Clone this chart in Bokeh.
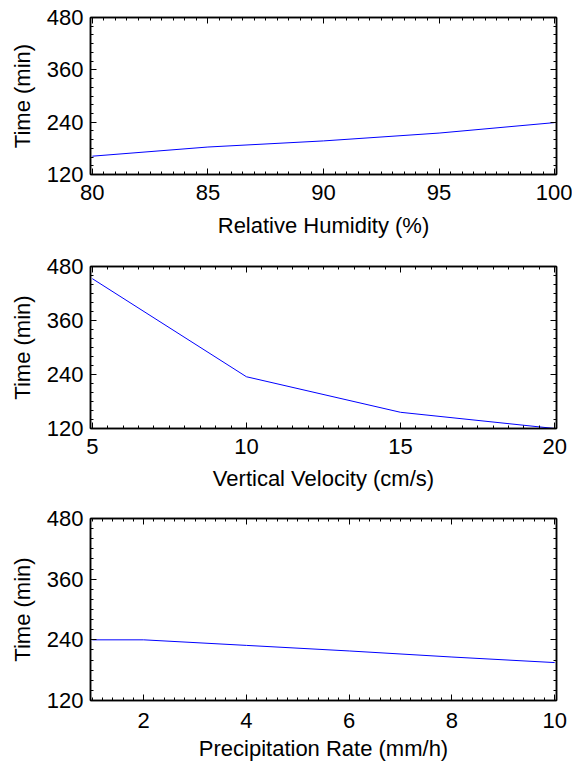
from bokeh.plotting import figure
from bokeh.layouts import column
from bokeh.models import Range1d, LinearAxis, SingleIntervalTicker
from bokeh.embed import file_html
from bokeh.resources import INLINE

# ---- data ----
rh_pct = [80, 85, 90, 95, 100]
rh_time = [162, 183, 197, 215, 239]

vv_cms = [5, 10, 15, 20]
vv_time = [453, 235, 156, 120]

pr_mmh = [1, 2, 4, 6, 8, 10]
pr_time = [240, 240, 229, 218, 206, 195]

y_min, y_max = 120, 480
y_tick_step = 120

x_labels = ["Relative Humidity (%)", "Vertical Velocity (cm/s)", "Precipitation Rate (mm/h)"]
y_label = "Time (min)"

FONT = "Liberation Sans"
FS = "22px"


def style_axis(ax, show_labels):
    ax.axis_line_color = "black"
    ax.axis_line_width = 1.5
    ax.major_tick_in = 6
    ax.major_tick_out = 0
    ax.minor_tick_in = 3
    ax.minor_tick_out = 0
    ax.major_tick_line_color = "black"
    ax.minor_tick_line_color = "black"
    ax.major_label_text_font = FONT
    ax.axis_label_text_font = FONT
    ax.axis_label_text_font_style = "normal"
    ax.major_label_text_color = "black"
    ax.axis_label_text_color = "black"
    if show_labels:
        ax.major_label_text_font_size = FS
        ax.axis_label_text_font_size = FS
    else:
        ax.major_label_text_font_size = "1px"
        ax.major_label_text_alpha = 0
        ax.major_label_standoff = 0


def make_panel(xs, ys, xlabel, x_step, height, top, bottom, tick_standoff, x_label_standoff):
    span = xs[-1] - xs[0]
    pad = span * 1.8 / 462.0
    p = figure(
        width=572, height=height,
        min_border_left=90, min_border_right=16,
        min_border_top=top, min_border_bottom=bottom,
        x_range=Range1d(xs[0] - pad, xs[-1] + pad),
        y_range=Range1d(y_min, y_max),
        output_backend="svg", toolbar_location=None,
    )
    p.outline_line_color = "black"
    p.outline_line_width = 1.5
    p.grid.visible = False
    p.background_fill_color = "white"
    p.border_fill_color = "white"

    p.xaxis.ticker = SingleIntervalTicker(interval=x_step, num_minor_ticks=10)
    p.yaxis.ticker = SingleIntervalTicker(interval=y_tick_step, num_minor_ticks=6)
    for ax in p.xaxis:
        style_axis(ax, True)
        ax.axis_label = xlabel
        ax.major_label_standoff = tick_standoff
        ax.axis_label_standoff = x_label_standoff
    for ax in p.yaxis:
        style_axis(ax, True)
        ax.axis_label = y_label
        ax.major_label_standoff = 7
        ax.axis_label_standoff = 9

    top_ax = LinearAxis(ticker=SingleIntervalTicker(interval=x_step, num_minor_ticks=10))
    style_axis(top_ax, False)
    p.add_layout(top_ax, "above")
    right_ax = LinearAxis(ticker=SingleIntervalTicker(interval=y_tick_step, num_minor_ticks=6))
    style_axis(right_ax, False)
    p.add_layout(right_ax, "right")

    p.line(xs, ys, line_color="#0000ff", line_width=1)
    return p


p1 = make_panel(rh_pct, rh_time, x_labels[0], 5, 250, 17, 76, 10, 10)
p2 = make_panel(vv_cms, vv_time, x_labels[1], 5, 250, 16, 72, 10, 9)
p3 = make_panel(pr_mmh, pr_time, x_labels[2], 2, 263, 18, 63, 12, 5)

layout = column(p1, p2, p3, spacing=0)

open("out.html", "w").write(file_html(layout, INLINE))
